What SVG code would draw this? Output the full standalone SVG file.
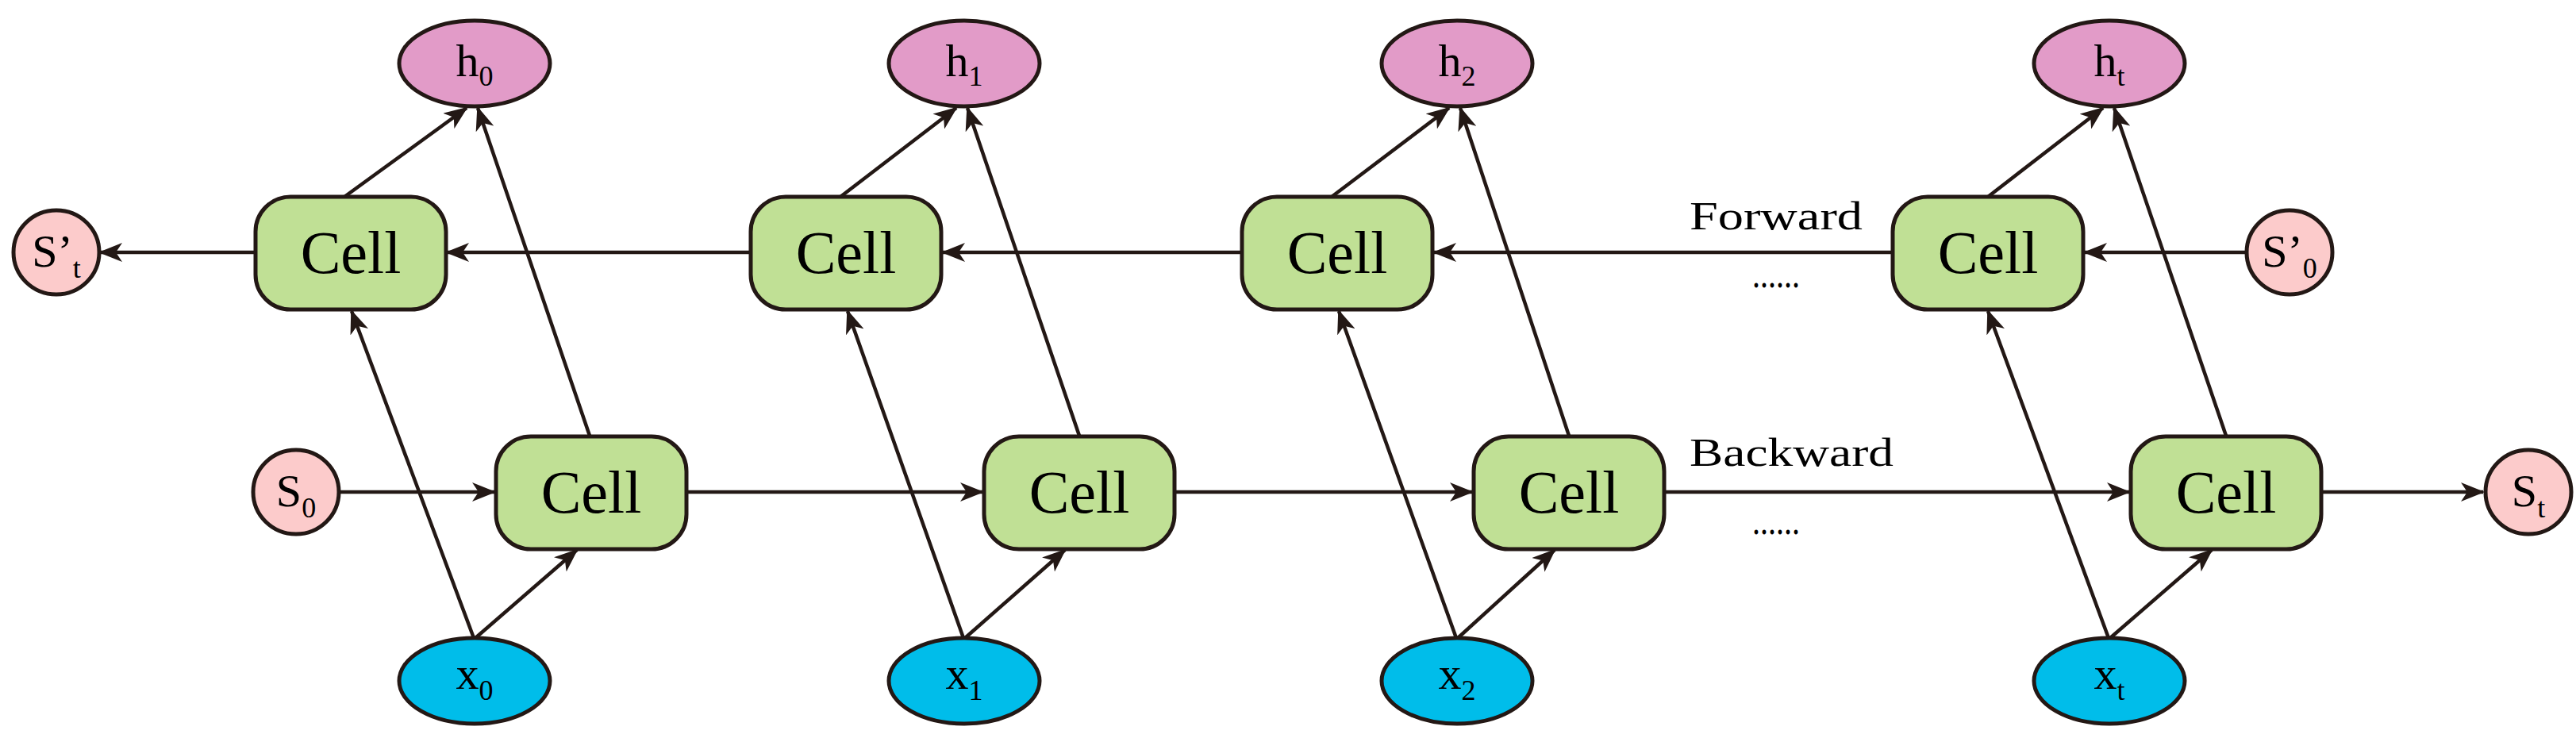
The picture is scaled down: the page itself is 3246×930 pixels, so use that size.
<svg xmlns="http://www.w3.org/2000/svg" width="3246" height="930" viewBox="0 0 3246 930">
<style>
.cell{fill:#c0e095;stroke:#231815;stroke-width:5}
.h{fill:#e29bc8;stroke:#231815;stroke-width:5}
.x{fill:#00bdea;stroke:#231815;stroke-width:5}
.s{fill:#fccbcb;stroke:#231815;stroke-width:5}
.c{stroke:#231815;stroke-width:4.5;fill:none;marker-end:url(#b)}
text{font-family:"Liberation Serif","DejaVu Serif",serif;fill:#000}
.ct{font-size:76px;text-anchor:middle}
.lt{font-size:58px;text-anchor:middle}
.sub{font-size:36px}
.lb{font-size:50px}
</style>
<defs>
<marker id="b" viewBox="0 0 30 24" refX="28" refY="12" markerWidth="30" markerHeight="24" orient="auto" markerUnits="userSpaceOnUse">
<path d="M0,0 L30,12 L0,24 L8,12 Z" fill="#231815"/>
</marker>
</defs>
<g id="connectors">
<line class="c" x1="2830" y1="318" x2="2627" y2="318"/>
<line class="c" x1="2385" y1="318" x2="1807" y2="318"/>
<line class="c" x1="1565" y1="318" x2="1188" y2="318"/>
<line class="c" x1="946" y1="318" x2="563" y2="318"/>
<line class="c" x1="321" y1="318" x2="126" y2="318"/>
<line class="c" x1="427" y1="620" x2="623" y2="620"/>
<line class="c" x1="865" y1="620" x2="1238" y2="620"/>
<line class="c" x1="1482" y1="620" x2="1855" y2="620"/>
<line class="c" x1="2099" y1="620" x2="2683" y2="620"/>
<line class="c" x1="2927" y1="620" x2="3129" y2="620"/>
<line class="c" x1="434" y1="248" x2="588" y2="136"/>
<line class="c" x1="743" y1="549" x2="602" y2="136"/>
<line class="c" x1="597" y1="804" x2="443" y2="392"/>
<line class="c" x1="599" y1="804" x2="727" y2="693"/>
<line class="c" x1="1059" y1="248" x2="1205" y2="136"/>
<line class="c" x1="1360" y1="549" x2="1219" y2="136"/>
<line class="c" x1="1214" y1="804" x2="1068" y2="392"/>
<line class="c" x1="1216" y1="804" x2="1342" y2="693"/>
<line class="c" x1="1678" y1="248" x2="1826" y2="136"/>
<line class="c" x1="1977" y1="549" x2="1840" y2="136"/>
<line class="c" x1="1835" y1="804" x2="1687" y2="392"/>
<line class="c" x1="1837" y1="804" x2="1959" y2="693"/>
<line class="c" x1="2505" y1="248" x2="2650" y2="136"/>
<line class="c" x1="2805" y1="549" x2="2664" y2="136"/>
<line class="c" x1="2657" y1="804" x2="2505" y2="392"/>
<line class="c" x1="2659" y1="804" x2="2787" y2="693"/>
</g>
<g id="labels">
<text class="lb" x="2129" y="289" textLength="218" lengthAdjust="spacingAndGlyphs">Forward</text>
<text class="lb" x="2129" y="587" textLength="257" lengthAdjust="spacingAndGlyphs">Backward</text>
<text class="lb" x="2208" y="362" font-size="30" textLength="60" lengthAdjust="spacingAndGlyphs">......</text>
<text class="lb" x="2208" y="673" font-size="30" textLength="60" lengthAdjust="spacingAndGlyphs">......</text>
</g>
<g id="top0"><rect class="cell" x="322" y="248" width="240" height="142" rx="44"/><text class="ct" x="442" y="344">Cell</text></g>
<g id="top1"><rect class="cell" x="946" y="248" width="240" height="142" rx="44"/><text class="ct" x="1066" y="344">Cell</text></g>
<g id="top2"><rect class="cell" x="1565" y="248" width="240" height="142" rx="44"/><text class="ct" x="1685" y="344">Cell</text></g>
<g id="topt"><rect class="cell" x="2385" y="248" width="240" height="142" rx="44"/><text class="ct" x="2505" y="344">Cell</text></g>
<g id="bot0"><rect class="cell" x="625" y="550" width="240" height="142" rx="44"/><text class="ct" x="745" y="646">Cell</text></g>
<g id="bot1"><rect class="cell" x="1240" y="550" width="240" height="142" rx="44"/><text class="ct" x="1360" y="646">Cell</text></g>
<g id="bot2"><rect class="cell" x="1857" y="550" width="240" height="142" rx="44"/><text class="ct" x="1977" y="646">Cell</text></g>
<g id="bott"><rect class="cell" x="2685" y="550" width="240" height="142" rx="44"/><text class="ct" x="2805" y="646">Cell</text></g>
<g id="h0"><ellipse class="h" cx="598" cy="80" rx="95" ry="54"/><text class="lt" x="598" y="96">h<tspan class="sub" dy="12">0</tspan></text></g>
<g id="h1"><ellipse class="h" cx="1215" cy="80" rx="95" ry="54"/><text class="lt" x="1215" y="96">h<tspan class="sub" dy="12">1</tspan></text></g>
<g id="h2"><ellipse class="h" cx="1836" cy="80" rx="95" ry="54"/><text class="lt" x="1836" y="96">h<tspan class="sub" dy="12">2</tspan></text></g>
<g id="ht"><ellipse class="h" cx="2658" cy="80" rx="95" ry="54"/><text class="lt" x="2658" y="96">h<tspan class="sub" dy="12">t</tspan></text></g>
<g id="x0"><ellipse class="x" cx="598" cy="858" rx="95" ry="54"/><text class="lt" x="598" y="868">x<tspan class="sub" dy="14">0</tspan></text></g>
<g id="x1"><ellipse class="x" cx="1215" cy="858" rx="95" ry="54"/><text class="lt" x="1215" y="868">x<tspan class="sub" dy="14">1</tspan></text></g>
<g id="x2"><ellipse class="x" cx="1836" cy="858" rx="95" ry="54"/><text class="lt" x="1836" y="868">x<tspan class="sub" dy="14">2</tspan></text></g>
<g id="xt"><ellipse class="x" cx="2658" cy="858" rx="95" ry="54"/><text class="lt" x="2658" y="868">x<tspan class="sub" dy="14">t</tspan></text></g>
<g id="Spt"><ellipse class="s" cx="71" cy="318" rx="54" ry="53"/><text class="lt" x="71" y="336">S’<tspan class="sub" dy="14">t</tspan></text></g>
<g id="Sp0"><ellipse class="s" cx="2885" cy="318" rx="54" ry="53"/><text class="lt" x="2885" y="336">S’<tspan class="sub" dy="14">0</tspan></text></g>
<g id="S0"><ellipse class="s" cx="373" cy="620" rx="54" ry="53"/><text class="lt" x="373" y="638">S<tspan class="sub" dy="14">0</tspan></text></g>
<g id="St"><ellipse class="s" cx="3186" cy="620" rx="54" ry="53"/><text class="lt" x="3186" y="638">S<tspan class="sub" dy="14">t</tspan></text></g>
</svg>
